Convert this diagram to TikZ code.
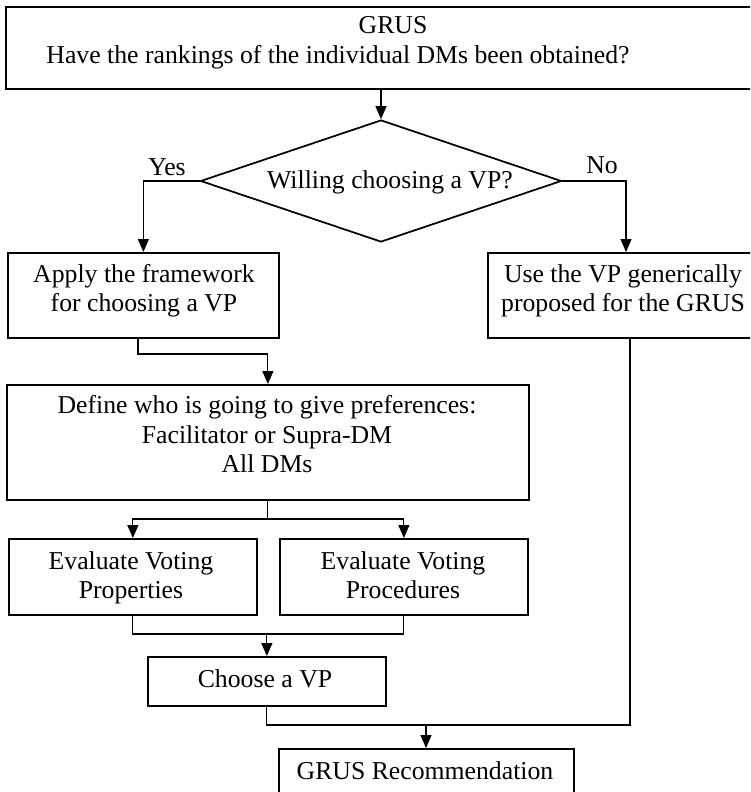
\documentclass[tikz,border=0pt]{standalone}
\usepackage{fontspec}
\setmainfont{Liberation Serif}
\usetikzlibrary{arrows.meta,shapes.geometric}
\begin{document}
\begin{tikzpicture}[x=0.75pt,y=-0.75pt,
  font=\fontsize{19.3pt}{22.1pt}\selectfont,
  box/.style={draw, line width=1.3pt, inner sep=0pt, anchor=north west},
  txt/.style={inner sep=0pt, anchor=base},
  conn/.style={line width=0.9pt},
  arr/.style={conn, -{Triangle[length=9.75pt,width=8.25pt]}}]
\useasboundingbox (0,0) rectangle (750,792);
\clip (0,0) rectangle (750,792);
% boxes
\node[box, minimum width={746*0.75pt}, minimum height={82*0.75pt}] (top) at (5,6) {};
\node[draw, line width=1.3pt, shape=diamond, aspect=3, inner sep=0pt,
      minimum width={361*0.75pt}, minimum height={122*0.75pt}] (dia) at (381,181) {};
\node[box, minimum width={271*0.75pt}, minimum height={85*0.75pt}] (apply) at (7,252) {};
\node[box, minimum width={264*0.75pt}, minimum height={85*0.75pt}] (use) at (487,252) {};
\node[box, minimum width={522*0.75pt}, minimum height={115*0.75pt}] (define) at (6,384) {};
\node[box, minimum width={248*0.75pt}, minimum height={76*0.75pt}] (evp) at (8,538) {};
\node[box, minimum width={248*0.75pt}, minimum height={76*0.75pt}] (evr) at (279,538) {};
\node[box, minimum width={238*0.75pt}, minimum height={49*0.75pt}] (choose) at (147,656) {};
\node[box, minimum width={295*0.75pt}, minimum height={50*0.75pt}] (rec) at (278,748) {};
% texts
\node[txt] (t1) at (393,34) {GRUS};
\node[txt] (t2) at (338,64) {Have the rankings of the individual DMs been obtained?};
\node[txt] (t3) at (390,188) {Willing choosing a VP?};
\node[txt] (yes) at (167,175) {Yes};
\node[txt] (no) at (602,173) {No};
\node[txt] (t4) at (144,282) {Apply the framework};
\node[txt] (t5) at (144,311) {for choosing a VP};
\node[txt] (t6) at (623,282) {Use the VP generically};
\node[txt] (t7) at (623,311) {proposed for the GRUS};
\node[txt] (t8) at (267,413) {Define who is going to give preferences:};
\node[txt] (t9) at (267,443) {Facilitator or Supra-DM};
\node[txt] (t10) at (267,472) {All DMs};
\node[txt] (t11) at (131,569) {Evaluate Voting};
\node[txt] (t12) at (131,598) {Properties};
\node[txt] (t13) at (403,569) {Evaluate Voting};
\node[txt] (t14) at (403,598) {Procedures};
\node[txt] (t15) at (265,687) {Choose a VP};
\node[txt] (t16) at (425,779) {GRUS Recommendation};
% connectors
\coordinate (split) at (define.south |- 0,519);
\coordinate (join) at (choose.north |- 0,634);
\coordinate (merge) at (426,725);
\draw[arr] (top.south -| dia.north) -- (dia.north);
\draw[arr] (dia.west) -| (apply.north);
\draw[arr] (dia.east) -| (use.north -| 626,0);
\draw[arr] (apply.south -| 138,0) -- (138,354) -| (define.north);
\draw[conn] (define.south) -- (split);
\draw[arr] (split) -| (evp.north);
\draw[arr] (split) -| (evr.north);
\draw[conn] (evp.south) |- (join);
\draw[conn] (evr.south) |- (join);
\draw[arr] (join) -- (choose.north);
\draw[conn] (choose.south) |- (merge);
\draw[conn] (use.south -| 630,0) |- (merge);
\draw[arr] (merge) -- (rec.north -| merge);
\end{tikzpicture}
\end{document}
